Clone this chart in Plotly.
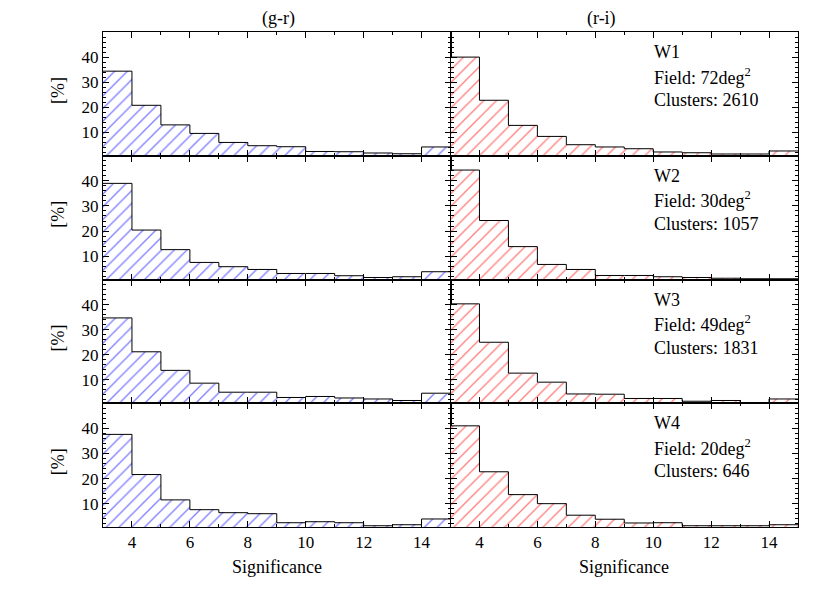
import plotly.graph_objects as go
from plotly.subplots import make_subplots

bin_edges = [3, 4, 5, 6, 7, 8, 9, 10, 11, 12, 13, 14, 15]

gr_W1 = [34.4, 20.8, 13.0, 9.6, 6.0, 4.7, 4.3, 2.4, 2.3, 1.8, 1.5, 4.2]
gr_W2 = [39.0, 20.4, 12.6, 7.5, 5.8, 4.7, 3.1, 3.1, 2.2, 1.5, 1.8, 3.8]
gr_W3 = [34.7, 21.2, 13.8, 8.7, 5.1, 5.1, 3.0, 3.4, 2.8, 2.4, 1.8, 4.7]
gr_W4 = [37.6, 21.6, 11.5, 7.6, 6.4, 6.0, 2.4, 2.8, 2.4, 1.2, 1.6, 3.9]

ri_W1 = [40.0, 22.8, 12.8, 8.4, 5.1, 4.2, 3.5, 2.2, 1.9, 1.4, 1.4, 2.6]
ri_W2 = [44.3, 24.2, 13.8, 6.7, 4.7, 2.3, 2.3, 1.8, 1.5, 1.2, 1.0, 1.0]
ri_W3 = [40.3, 25.0, 12.7, 9.1, 4.4, 4.3, 2.6, 2.6, 1.5, 1.8, 1.0, 2.4]
ri_W4 = [41.0, 22.7, 13.6, 10.0, 5.4, 3.8, 2.3, 2.4, 1.2, 1.2, 1.2, 1.6]

fields = ["W1", "W2", "W3", "W4"]
areas = ["72", "30", "49", "20"]
clusters = ["2610", "1057", "1831", "646"]
col_titles = ["(g-r)", "(r-i)"]

gr = [gr_W1, gr_W2, gr_W3, gr_W4]
ri = [ri_W1, ri_W2, ri_W3, ri_W4]

OFF = 8  # page body margin
W, H = 830 - OFF, 593 - OFF
ML, MR, MT, MB = 103 - OFF, 32, 32 - OFF, 66

fig = make_subplots(rows=4, cols=2, horizontal_spacing=0, vertical_spacing=0)

FONT = "Times New Roman, Times, Liberation Serif, serif"
centers = [(bin_edges[i] + bin_edges[i + 1]) / 2 for i in range(len(bin_edges) - 1)]

for r in range(4):
    for c, (data, col) in enumerate([(gr, "#0000ff"), (ri, "#ff0000")]):
        vals = data[r]
        fig.add_trace(go.Bar(
            x=centers, y=vals, width=1,
            marker=dict(color="white", line=dict(width=0),
                        pattern=dict(shape="/", fgcolor=col, bgcolor="white",
                                     size=9, solidity=0.15)),
            showlegend=False, hoverinfo="skip"), row=r + 1, col=c + 1)
        fig.add_trace(go.Scatter(
            x=bin_edges, y=vals + [vals[-1]], mode="lines",
            line=dict(color="black", width=1, shape="hv"),
            showlegend=False, hoverinfo="skip"), row=r + 1, col=c + 1)

for r in range(4):
    for c in range(2):
        fig.update_xaxes(
            row=r + 1, col=c + 1, range=[3, 15],
            showline=True, mirror="allticks", linecolor="black", linewidth=1,
            ticks="inside", ticklen=6, tickcolor="black",
            tickvals=[4, 6, 8, 10, 12, 14],
            minor=dict(ticks="inside", ticklen=3, dtick=1, tickcolor="black"),
            showgrid=False, zeroline=False,
            showticklabels=(r == 3),
            tickfont=dict(family=FONT, size=17, color="black"))
        fig.update_yaxes(
            row=r + 1, col=c + 1, range=[0.7, 50],
            showline=True, mirror="allticks", linecolor="black", linewidth=1,
            ticks="inside", ticklen=6, tickcolor="black",
            tickvals=[10, 20, 30, 40],
            minor=dict(ticks="inside", ticklen=3, dtick=2, tickcolor="black"),
            showgrid=False, zeroline=False,
            showticklabels=(c == 0),
            tickfont=dict(family=FONT, size=17, color="black"))

ann = []
PW = W - ML - MR
PH = H - MT - MB

# positions below are given in screenshot pixels; convert to paper coords
def px(x):
    return (x - OFF - ML) / PW

def py(y):
    return (H - MB - (y - OFF)) / PH

title_x = [278, 601]
for c in range(2):
    ann.append(dict(x=px(title_x[c]), y=py(18), xref="paper", yref="paper",
                    text=col_titles[c], showarrow=False, xanchor="center", yanchor="middle",
                    font=dict(family=FONT, size=18, color="black")))
    ann.append(dict(x=px(103 + 347.5 * c + 173.75), y=py(567), xref="paper", yref="paper",
                    text="Significance", showarrow=False, xanchor="center", yanchor="middle",
                    font=dict(family=FONT, size=18, color="black")))

for r in range(4):
    top = 32 + 123.75 * r
    ann.append(dict(x=px(58), y=py(top + 123.75 / 2 - 3), xref="paper", yref="paper",
                    text="[%]", showarrow=False, textangle=-90, xanchor="center", yanchor="middle",
                    font=dict(family=FONT, size=18, color="black")))
    lines = [fields[r], "Field: " + areas[r] + "deg<sup>2</sup>", "Clusters: " + clusters[r]]
    for k, t in enumerate(lines):
        ann.append(dict(x=px(652), y=py(top + 20 + 24 * k), xref="paper", yref="paper",
                        text=t, showarrow=False, xanchor="left", yanchor="middle",
                        font=dict(family=FONT, size=18, color="black")))

fig.update_layout(
    width=W, height=H,
    margin=dict(l=ML, r=MR, t=MT, b=MB),
    paper_bgcolor="white", plot_bgcolor="white",
    bargap=0, barmode="overlay",
    annotations=ann,
    showlegend=False,
    font=dict(family=FONT, color="black"),
)

fig.write_html("out.html")
